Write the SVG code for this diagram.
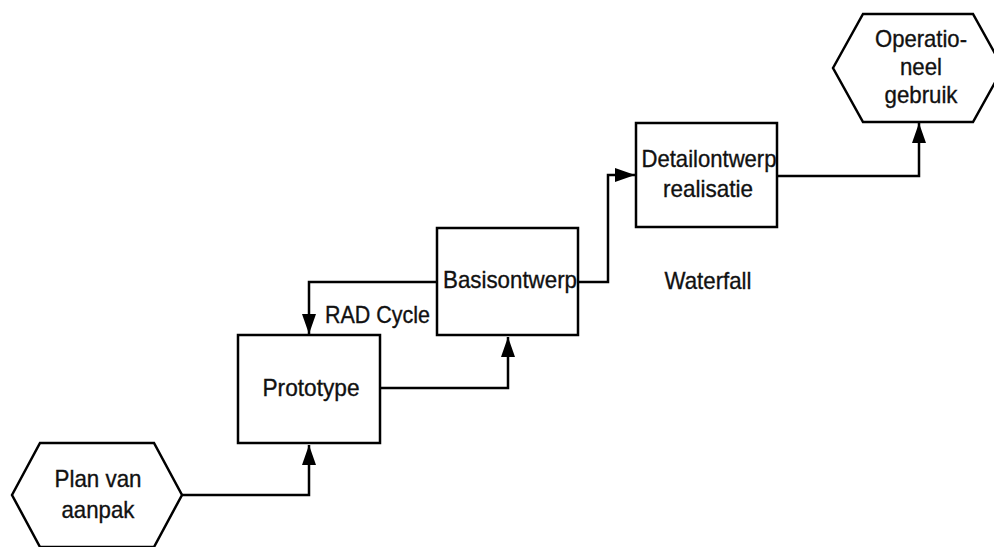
<svg xmlns="http://www.w3.org/2000/svg" width="994" height="547" viewBox="0 0 994 547">
<style>
.box{fill:#fff;stroke:#000;stroke-width:2.5}
.ln{fill:none;stroke:#000;stroke-width:2.5}
text{font-family:"Liberation Sans",Arial,sans-serif;font-size:24px;fill:#111;stroke:#111;stroke-width:0.35}
.c{text-anchor:middle}
</style>
<defs>
<marker id="arr" markerUnits="userSpaceOnUse" markerWidth="22" markerHeight="14" refX="20" refY="7" orient="auto">
<path d="M0,0 L20,7 L0,14 Z" fill="#000"/>
</marker>
</defs>
<rect width="994" height="547" fill="#fff"/>
<g id="connectors">
<polyline class="ln" points="182,495 309,495 309,445" marker-end="url(#arr)"/>
<polyline class="ln" points="380,388 508,388 508,337" marker-end="url(#arr)"/>
<polyline class="ln" points="437,282 309,282 309,334" marker-end="url(#arr)"/>
<polyline class="ln" points="578,282 608,282 608,175 635,175" marker-end="url(#arr)"/>
<polyline class="ln" points="777,176 919,176 919,123" marker-end="url(#arr)"/>
</g>
<g id="plan">
<polygon class="box" points="12,495 40,443 154,443 182,495 154,547 40,547"/>
<text class="c" x="98" y="487" textLength="87" lengthAdjust="spacingAndGlyphs">Plan van</text>
<text class="c" x="98" y="518" textLength="73" lengthAdjust="spacingAndGlyphs">aanpak</text>
</g>
<g id="prototype">
<rect class="box" x="238" y="335" width="142" height="108"/>
<text class="c" x="311" y="396" textLength="97" lengthAdjust="spacingAndGlyphs">Prototype</text>
</g>
<g id="basisontwerp">
<rect class="box" x="437" y="228" width="141" height="107"/>
<text class="c" x="510" y="288" textLength="134" lengthAdjust="spacingAndGlyphs">Basisontwerp</text>
</g>
<g id="detailontwerp">
<rect class="box" x="636" y="123" width="141" height="104"/>
<text class="c" x="709" y="167" textLength="135" lengthAdjust="spacingAndGlyphs">Detailontwerp</text>
<text class="c" x="708" y="197" textLength="90" lengthAdjust="spacingAndGlyphs">realisatie</text>
</g>
<g id="operationeel">
<polygon class="box" points="833,68 863,14 973,14 1003,68 973,122 863,122"/>
<text class="c" x="921" y="47" textLength="92" lengthAdjust="spacingAndGlyphs">Operatio-</text>
<text class="c" x="921" y="75" textLength="42" lengthAdjust="spacingAndGlyphs">neel</text>
<text class="c" x="921" y="103" textLength="73" lengthAdjust="spacingAndGlyphs">gebruik</text>
</g>
<g id="labels">
<text x="325" y="323" textLength="105" lengthAdjust="spacingAndGlyphs">RAD Cycle</text>
<text class="c" x="708" y="289" textLength="87" lengthAdjust="spacingAndGlyphs">Waterfall</text>
</g>
</svg>
